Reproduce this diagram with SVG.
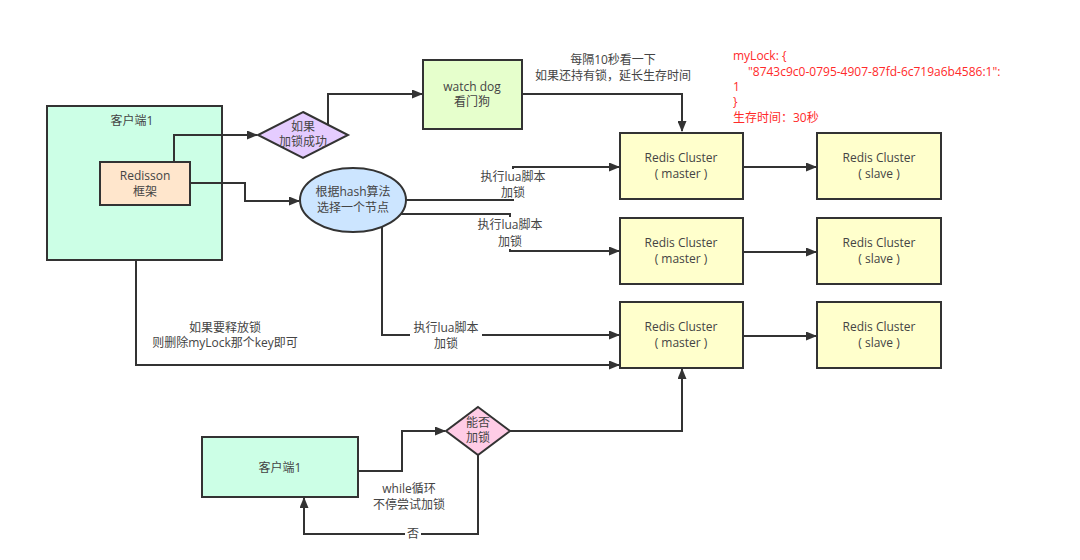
<svg xmlns="http://www.w3.org/2000/svg" width="1080" height="560" viewBox="0 0 1080 560">
<defs>
<marker id="ah" markerWidth="11" markerHeight="9" refX="10" refY="4.5" orient="auto" markerUnits="userSpaceOnUse">
<path d="M0,0 L11,4.5 L0,9 z" fill="#333"/>
</marker>
<style>
.n{stroke:#333;stroke-width:2}
.t{font-family:"Open Sans","Noto Sans CJK SC",sans-serif;font-size:12px;fill:#444;text-anchor:middle}
.r{font-family:"Open Sans","Noto Sans CJK SC",sans-serif;font-size:12px;fill:#ff2a2a}
.c{fill:none;stroke:#333;stroke-width:2;marker-end:url(#ah)}
.bg{fill:#fff}
</style>
</defs>
<rect width="1080" height="560" fill="#fff"/>

<g id="client1">
<rect class="n" x="47" y="106" width="175" height="154" fill="#ccffe6"/>
<text class="t" x="132" y="125">客户端1</text>
</g>
<g id="redisson">
<rect class="n" x="100" y="162" width="90" height="43" fill="#ffe6cc"/>
<text class="t" x="145" y="180">Redisson</text>
<text class="t" x="145" y="196">框架</text>
</g>
<g id="lockOk">
<polygon class="n" points="303,112 348,135 303,158 258,135" fill="#e5ccff"/>
<text class="t" x="303" y="131">如果</text>
<text class="t" x="303" y="146">加锁成功</text>
</g>
<g id="watchdog">
<rect class="n" x="423" y="60" width="99" height="69" fill="#e6ffcc"/>
<text class="t" x="472" y="91">watch dog</text>
<text class="t" x="472" y="106">看门狗</text>
</g>
<g id="hash">
<ellipse class="n" cx="353" cy="200" rx="53" ry="32" fill="#cce5ff"/>
<text class="t" x="353" y="196">根据hash算法</text>
<text class="t" x="353" y="212">选择一个节点</text>
</g>
<g id="master1">
<rect class="n" x="620" y="133" width="123" height="66" fill="#ffffcc"/>
<text class="t" x="681" y="162">Redis Cluster</text>
<text class="t" x="681" y="178">( master )</text>
</g>
<g id="master2">
<rect class="n" x="620" y="218" width="123" height="66" fill="#ffffcc"/>
<text class="t" x="681" y="247">Redis Cluster</text>
<text class="t" x="681" y="263">( master )</text>
</g>
<g id="master3">
<rect class="n" x="620" y="302" width="123" height="66" fill="#ffffcc"/>
<text class="t" x="681" y="331">Redis Cluster</text>
<text class="t" x="681" y="347">( master )</text>
</g>
<g id="slave1">
<rect class="n" x="817" y="133" width="124" height="66" fill="#ffffcc"/>
<text class="t" x="879" y="162">Redis Cluster</text>
<text class="t" x="879" y="178">( slave )</text>
</g>
<g id="slave2">
<rect class="n" x="817" y="218" width="124" height="66" fill="#ffffcc"/>
<text class="t" x="879" y="247">Redis Cluster</text>
<text class="t" x="879" y="263">( slave )</text>
</g>
<g id="slave3">
<rect class="n" x="817" y="302" width="124" height="66" fill="#ffffcc"/>
<text class="t" x="879" y="331">Redis Cluster</text>
<text class="t" x="879" y="347">( slave )</text>
</g>
<g id="client2">
<rect class="n" x="202" y="437" width="156" height="60" fill="#ccffe6"/>
<text class="t" x="280" y="472">客户端1</text>
</g>
<g id="canLock">
<polygon class="n" points="478,407 510,431 478,455 446,431" fill="#ffcce6"/>
<text class="t" x="478" y="427">能否</text>
<text class="t" x="478" y="442">加锁</text>
</g>
<g id="note">
<text class="r" x="733" y="60">myLock: {</text>
<text class="r" x="748" y="76">"8743c9c0-0795-4907-87fd-6c719a6b4586:1":</text>
<text class="r" x="733" y="91">1</text>
<text class="r" x="733" y="106">}</text>
<text class="r" x="733" y="122">生存时间：30秒</text>
</g>

<g id="connectors">
<polyline class="c" points="174,162 174,135 257,135"/>
<polyline class="c" points="328,125 328,94 422,94"/>
<polyline class="c" points="522,94 682,94 682,131"/>
<polyline class="c" points="190,183 245,183 245,201 299,201"/>
<polyline class="c" points="406,200 513,200 513,167 619,167"/>
<polyline class="c" points="401,214 510,214 510,251 619,251"/>
<polyline class="c" points="382,227 382,335 619,335"/>
<polyline class="c" points="136,261 136,365 619,365"/>
<polyline class="c" points="743,167 816,167"/>
<polyline class="c" points="743,252 816,252"/>
<polyline class="c" points="743,336 816,336"/>
<polyline class="c" points="358,471 402,471 402,431 445,431"/>
<polyline class="c" points="510,431 682,431 682,369"/>
<polyline class="c" points="478,455 478,534 304,534 304,498"/>
<rect class="bg" x="476" y="169" width="74" height="30"/>
<rect class="bg" x="474" y="217" width="74" height="32"/>
<rect class="bg" x="410" y="320" width="72" height="30"/>
<rect class="bg" x="405" y="526" width="16" height="16"/>
<text class="t" x="513" y="181">执行lua脚本</text>
<text class="t" x="513" y="197">加锁</text>
<text class="t" x="510" y="229">执行lua脚本</text>
<text class="t" x="510" y="246">加锁</text>
<text class="t" x="446" y="332">执行lua脚本</text>
<text class="t" x="446" y="348">加锁</text>
<text class="t" x="225" y="332">如果要释放锁</text>
<text class="t" x="225" y="347">则删除myLock那个key即可</text>
<text class="t" x="613" y="64">每隔10秒看一下</text>
<text class="t" x="613" y="80">如果还持有锁，延长生存时间</text>
<text class="t" x="409" y="493">while循环</text>
<text class="t" x="409" y="509">不停尝试加锁</text>
<text class="t" x="413" y="538">否</text>
</g>
</svg>
